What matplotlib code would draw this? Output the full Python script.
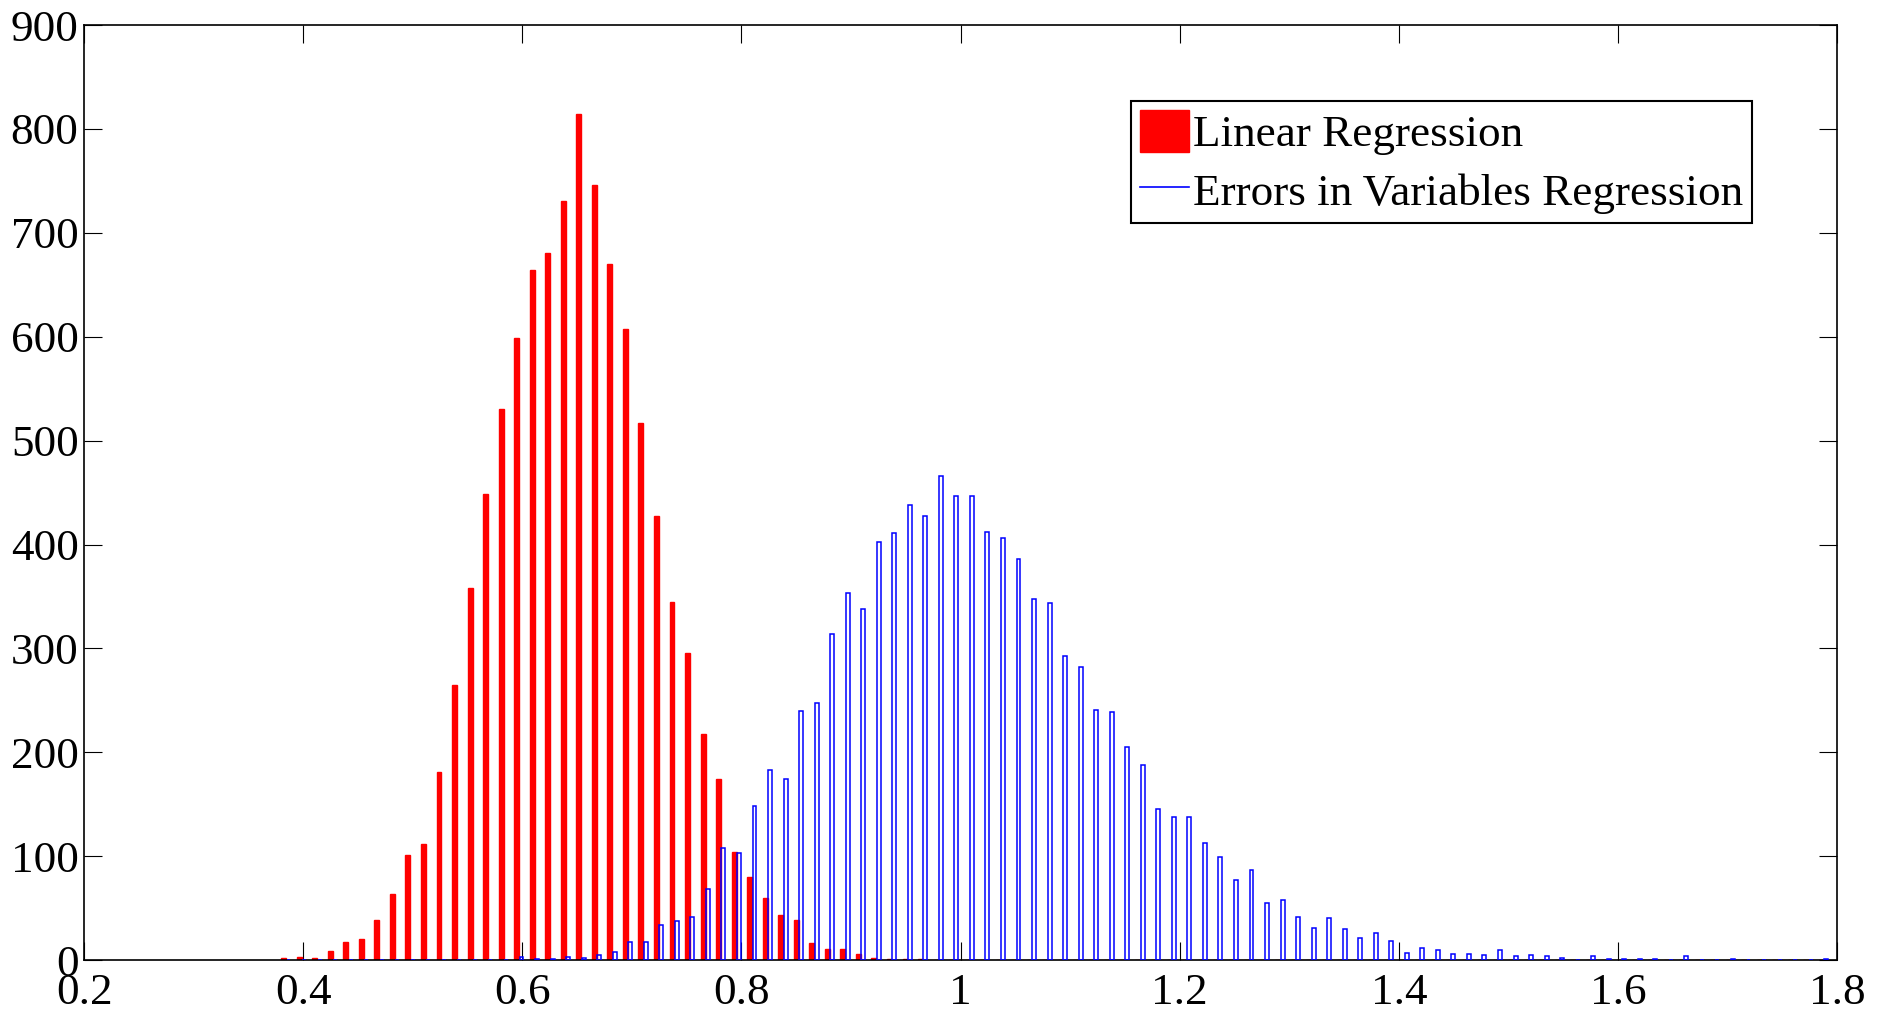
import numpy as np
import matplotlib
matplotlib.use("Agg")
from matplotlib import pyplot as plt
from matplotlib.patches import Patch
from matplotlib.lines import Line2D

plt.rcParams['font.family'] = ['Liberation Serif', 'DejaVu Serif']

# 100 histogram bins shared by both series (centres)
bin_first = 0.3843
bin_last = 1.7877
n_bins = 100

# counts per bin
linear_counts = [
    2, 3, 2, 9, 17, 20, 39, 64, 101, 112,
    181, 265, 358, 449, 530, 599, 664, 681, 731, 814,
    746, 670, 607, 517, 427, 345, 296, 218, 174, 104,
    80, 60, 43, 39, 16, 11, 11, 6, 2, 1,
    1, 1, 0, 0, 0, 0, 0, 0, 0, 0,
    0, 0, 0, 0, 0, 0, 0, 0, 0, 0,
    0, 0, 0, 0, 0, 0, 0, 0, 0, 0,
    0, 0, 0, 0, 0, 0, 0, 0, 0, 0,
    0, 0, 0, 0, 0, 0, 0, 0, 0, 0,
    0, 0, 0, 0, 0, 0, 0, 0, 0, 0,
]
eiv_counts = [
    0, 0, 0, 0, 0, 0, 0, 0, 0, 0,
    0, 0, 0, 0, 0, 3, 1, 1, 3, 2,
    5, 8, 17, 17, 34, 38, 41, 68, 108, 103,
    148, 183, 174, 240, 247, 314, 353, 338, 402, 411,
    438, 427, 466, 447, 447, 412, 406, 386, 348, 344,
    293, 282, 241, 239, 205, 188, 145, 138, 138, 113,
    99, 77, 87, 55, 58, 41, 31, 40, 30, 21,
    26, 18, 7, 12, 10, 6, 6, 5, 10, 4,
    5, 4, 2, 0, 4, 1, 1, 1, 1, 0,
    4, 0, 0, 1, 0, 0, 0, 0, 0, 1,
]

x_ticks = [0.2, 0.4, 0.6, 0.8, 1.0, 1.2, 1.4, 1.6, 1.8]
x_labels = ['0.2', '0.4', '0.6', '0.8', '1', '1.2', '1.4', '1.6', '1.8']
y_ticks = [0, 100, 200, 300, 400, 500, 600, 700, 800, 900]

centers = np.linspace(bin_first, bin_last, n_bins)

fig = plt.figure(figsize=(18.85, 10.11), dpi=100)
ax = fig.add_axes([0.0446, 0.0504, 0.93, 0.9248])

ax.bar(centers - 0.0021, linear_counts, width=0.0045, color='red',
       edgecolor='red', linewidth=1.0, zorder=2)
ax.bar(centers + 0.0023, eiv_counts, width=0.0036, facecolor='none',
       edgecolor='blue', linewidth=1.1, zorder=3)

ax.set_xlim(0.2, 1.8)
ax.set_ylim(0, 900)
ax.set_xticks(x_ticks)
ax.set_xticklabels(x_labels)
ax.set_yticks(y_ticks)
ax.tick_params(direction='in', length=13, width=0.8, labelsize=32.5,
               top=True, right=True)
ax.tick_params(axis='x', pad=9)
ax.tick_params(axis='y', pad=4)
for s in ax.spines.values():
    s.set_linewidth(1.2)

handles = [Patch(facecolor='red', edgecolor='red'),
           Line2D([], [], color='blue', linewidth=1.2)]
leg = ax.legend(handles, ['Linear Regression', 'Errors in Variables Regression'],
                loc='upper right', bbox_to_anchor=(0.9515, 0.9187),
                borderaxespad=0, fontsize=32.5, fancybox=False, framealpha=1,
                edgecolor='black', handlelength=1.1, handleheight=1.05,
                handletextpad=0.08, labelspacing=0.3, borderpad=0.2)
leg.get_frame().set_linewidth(1.5)

fig.savefig('out.png', dpi=100)
